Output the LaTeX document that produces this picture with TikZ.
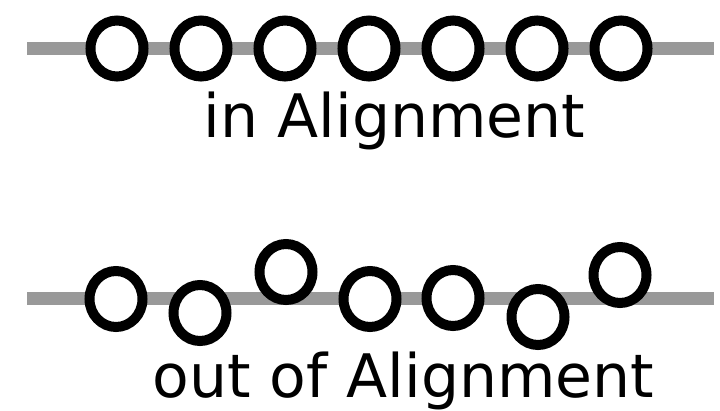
\documentclass[tikz,border=0pt]{standalone}
\usepackage{fontspec}
\setmainfont{DejaVu Sans}
\usepackage{tikz}
\usetikzlibrary{shapes.geometric}
\definecolor{railgray}{HTML}{999999}

\begin{document}
\begin{tikzpicture}[
    x=1pt,
    y=-1pt,
    bead/.style={ellipse, draw=black, line width=10pt, fill=white, minimum width=53pt, minimum height=56pt, inner sep=0pt},
    rail/.style={line width=13pt, draw=railgray},
    caption/.style={anchor=base, font=\fontsize{60}{72}\selectfont, inner sep=0pt}
  ]
    \useasboundingbox (0,0) rectangle (720,410);

    % aligned row
    \coordinate (topL) at (27,48);
    \coordinate (topR) at (714,48);
    \draw[rail] (topL) -- (topR);
    \node[bead] (t1) at (117,48.5) {};
    \node[bead] (t2) at (201,48.5) {};
    \node[bead] (t3) at (285,48.5) {};
    \node[bead] (t4) at (369,48.5) {};
    \node[bead] (t5) at (453,48.5) {};
    \node[bead] (t6) at (537,48.5) {};
    \node[bead] (t7) at (621,48.5) {};
    \node[caption] (inlbl) at (394.5,137) {in Alignment};

    % misaligned row
    \coordinate (botL) at (27,298);
    \coordinate (botR) at (714,298);
    \draw[rail] (botL) -- (botR);
    \node[bead] (b1) at (116,299) {};
    \node[bead] (b2) at (200,313) {};
    \node[bead] (b3) at (286,272) {};
    \node[bead] (b4) at (370,299) {};
    \node[bead] (b5) at (453,298) {};
    \node[bead] (b6) at (538,317) {};
    \node[bead] (b7) at (620,275) {};
    \node[caption] (outlbl) at (403.5,397) {out of Alignment};
  \end{tikzpicture}
\end{document}
